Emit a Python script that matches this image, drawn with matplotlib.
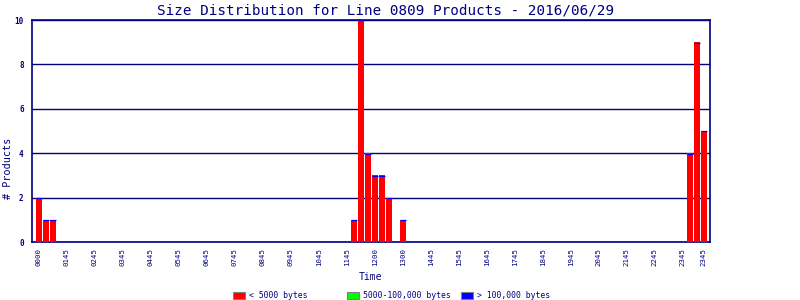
import matplotlib
matplotlib.use('Agg')
import matplotlib.pyplot as plt
from matplotlib.patches import Rectangle

# 15-minute bins over the day, count of products in each bin
small_counts = [0] * 96          # < 5000 bytes
small_counts[0:3] = [2, 1, 1]
small_counts[45:51] = [1, 10, 4, 3, 3, 2]
small_counts[52] = 1
small_counts[93:96] = [4, 9, 5]
medium_counts = [0] * 96         # 5000-100,000 bytes
large_counts = [0] * 96          # > 100,000 bytes

tick_bins = [0, 4, 8, 12, 16, 20, 24, 28, 32, 36, 40, 44, 48, 52, 56, 60,
             64, 68, 72, 76, 80, 84, 88, 92, 95]
tick_labels = ['0000', '0145', '0245', '0345', '0445', '0545', '0645', '0745',
               '0845', '0945', '1045', '1145', '1200', '1300', '1445', '1545',
               '1645', '1745', '1845', '1945', '2045', '2145', '2245', '2345', '2345']

legend_labels = ['< 5000 bytes', '5000-100,000 bytes', '> 100,000 bytes']
legend_colors = ['#ff0000', '#00ff00', '#0000ff']

navy = '#000080'
mono = 'DejaVu Sans Mono'

fig = plt.figure(figsize=(8, 3), dpi=100)
ax = fig.add_axes([0.04, 0.1933, 0.8475, 0.74])

x = list(range(len(small_counts)))
ax.bar(x, small_counts, width=0.86, color='#ff0000', zorder=3)
ax.bar(x, medium_counts, width=0.86, bottom=small_counts, color='#00ff00', zorder=3)
tops = [s + m + l for s, m, l in zip(small_counts, medium_counts, large_counts)]
ax.bar(x, large_counts, width=0.86, bottom=[s + m for s, m in zip(small_counts, medium_counts)],
       color='#0000ff', zorder=3)
# thin blue cap on top of every bar, like the original
for i, t in zip(x, tops):
    if t > 0:
        ax.hlines(t - 0.02, i - 0.43, i + 0.43, color='#0000ff', linewidth=0.9, zorder=4)

ax.set_xlim(-1, 95.9)
ax.set_ylim(0, 10)
ax.set_yticks([0, 2, 4, 6, 8, 10])
ax.yaxis.grid(True, color=navy, linewidth=1, zorder=1)
ax.set_xticks(tick_bins)
ax.set_xticklabels(tick_labels, rotation=90, family=mono, fontsize=5.3, color=navy)
for lab in ax.get_yticklabels():
    lab.set_family(mono)
    lab.set_fontsize(5.5)
    lab.set_fontweight('bold')
    lab.set_color(navy)
ax.tick_params(length=0, pad=6)
ax.tick_params(axis='x', pad=4)
for sp in ax.spines.values():
    sp.set_color(navy)
    sp.set_linewidth(1.2)

fig.text(0.482, 0.965, 'Size Distribution for Line 0809 Products - 2016/06/29',
         ha='center', va='center', family=mono, fontsize=10.3, color=navy)
fig.text(0.0105, 0.44, '# Products', rotation=90, ha='center', va='center',
         family=mono, fontsize=7.3, color=navy)
fig.text(0.4625, 0.077, 'Time', ha='center', va='center', family=mono,
         fontsize=7, color=navy)

# legend row at the bottom, evenly spaced swatches
for k, (lab, col) in enumerate(zip(legend_labels, legend_colors)):
    x0 = (233 + 114 * k) / 800
    fig.add_artist(Rectangle((x0, 1 / 300), 12 / 800, 7 / 300, transform=fig.transFigure,
                             facecolor=col, edgecolor='#808080', linewidth=0.8))
    fig.text(x0 + 16 / 800, 5 / 300, lab, ha='left', va='center', family=mono,
             fontsize=5.9, color=navy)

fig.savefig('out.png', dpi=100)
